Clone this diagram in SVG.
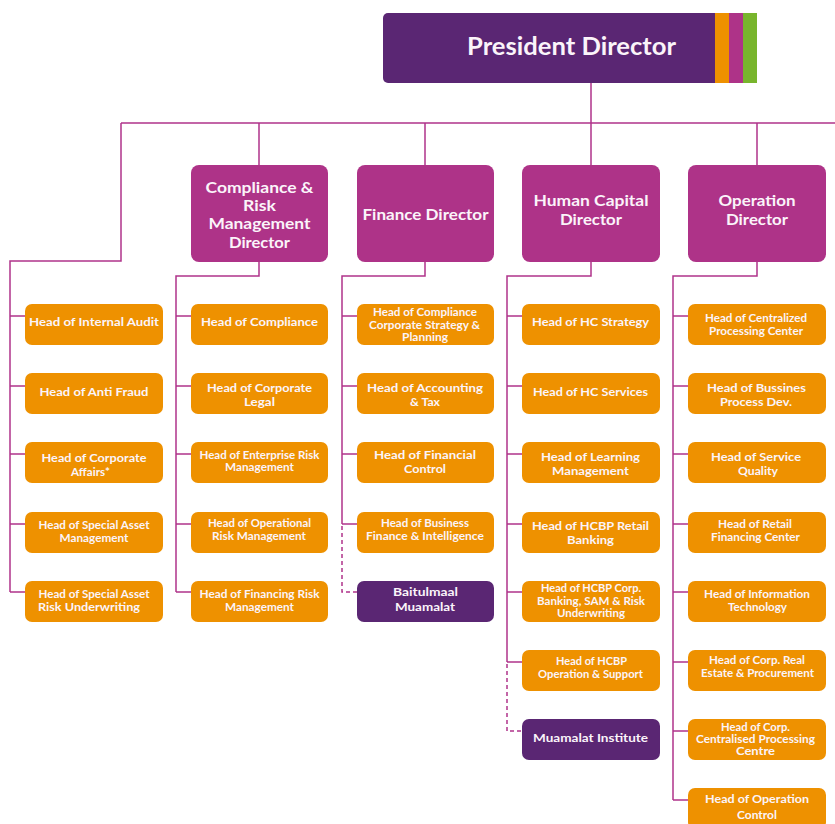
<svg xmlns="http://www.w3.org/2000/svg" width="835" height="824" viewBox="0 0 835 824">
  <style>
    .bg { fill: #ffffff; }
    .ln { fill: none; stroke: #b0338a; stroke-width: 1.5; }
    .dash { stroke-dasharray: 4 3; }
    .head { fill: #ee9100; }
    .dir { fill: #ae3388; }
    .unit { fill: #5a2673; }
    .t { font-family: Lato, "Liberation Sans", sans-serif; font-weight: 700; font-size: 11.5px; fill: #fbf4fa; text-anchor: middle; }
    .d { font-family: Lato, "Liberation Sans", sans-serif; font-weight: 700; font-size: 15.5px; fill: #fbf4fa; text-anchor: middle; }
    .p { font-family: Lato, "Liberation Sans", sans-serif; font-weight: 700; font-size: 25px; fill: #fbf4fa; text-anchor: middle; }
  </style>
  <rect class="bg" x="0" y="0" width="835" height="824"/>

  <!-- connectors -->
  <g id="connectors">
    <path class="ln" d="M591 83 V165 M121 123 H835 M259 123 V165 M425 123 V165 M757 123 V165"/>
    <!-- staff units under the president -->
    <path class="ln" d="M121 123 V261 H10 V592 M10 316 H25 M10 386 H25 M10 454 H25 M10 524 H25 M10 592 H25"/>
    <!-- compliance & risk -->
    <path class="ln" d="M259 262 V276 H176 V592 M176 316 H191 M176 386 H191 M176 454 H191 M176 524 H191 M176 592 H191"/>
    <!-- finance -->
    <path class="ln" d="M425 262 V276 H342 V524 M342 316 H357 M342 386 H357 M342 454 H357 M342 524 H357"/>
    <path class="ln dash" d="M342 526 V592 H357"/>
    <!-- human capital -->
    <path class="ln" d="M591 262 V276 H507 V662 M507 316 H522 M507 386 H522 M507 454 H522 M507 524 H522 M507 592 H522 M507 662 H522"/>
    <path class="ln dash" d="M507 664 V731 H522"/>
    <!-- operation -->
    <path class="ln" d="M757 262 V276 H673 V800 M673 316 H688 M673 386 H688 M673 454 H688 M673 524 H688 M673 592 H688 M673 662 H688 M673 731 H688 M673 800 H688"/>
  </g>

  <!-- president -->
  <g id="president">
    <rect class="unit" x="383" y="13" width="340" height="70" rx="5"/>
    <rect x="715" y="13" width="14" height="70" fill="#ee9100"/>
    <rect x="729" y="13" width="14" height="70" fill="#ae3388"/>
    <rect x="743" y="13" width="14" height="70" fill="#78b52d"/>
    <text class="p" x="571.5" y="55" textLength="209" lengthAdjust="spacingAndGlyphs">President Director</text>
  </g>

  <!-- directors -->
  <g id="dir-compliance">
    <rect class="dir" x="191" y="165" width="137" height="97" rx="8"/>
    <text class="d" x="259.5" y="193" textLength="108" lengthAdjust="spacingAndGlyphs">Compliance &amp;</text>
    <text class="d" x="259.5" y="211" textLength="33" lengthAdjust="spacingAndGlyphs">Risk</text>
    <text class="d" x="259.5" y="229" textLength="102" lengthAdjust="spacingAndGlyphs">Management</text>
    <text class="d" x="259.5" y="248" textLength="61" lengthAdjust="spacingAndGlyphs">Director</text>
  </g>
  <g id="dir-finance">
    <rect class="dir" x="357" y="165" width="137" height="97" rx="8"/>
    <text class="d" x="425.5" y="220" textLength="126" lengthAdjust="spacingAndGlyphs">Finance Director</text>
  </g>
  <g id="dir-hc">
    <rect class="dir" x="522" y="165" width="138" height="97" rx="8"/>
    <text class="d" x="591" y="206" textLength="115" lengthAdjust="spacingAndGlyphs">Human Capital</text>
    <text class="d" x="591" y="225" textLength="62" lengthAdjust="spacingAndGlyphs">Director</text>
  </g>
  <g id="dir-operation">
    <rect class="dir" x="688" y="165" width="138" height="97" rx="8"/>
    <text class="d" x="757" y="206" textLength="77" lengthAdjust="spacingAndGlyphs">Operation</text>
    <text class="d" x="757" y="225" textLength="62" lengthAdjust="spacingAndGlyphs">Director</text>
  </g>

  <!-- units under the president -->
  <g id="internal-audit">
    <rect class="head" x="25" y="304" width="138" height="41" rx="7"/>
    <text class="t" x="94" y="326" textLength="130" lengthAdjust="spacingAndGlyphs">Head of Internal Audit</text>
  </g>
  <g id="anti-fraud">
    <rect class="head" x="25" y="373" width="138" height="41" rx="7"/>
    <text class="t" x="94" y="396" textLength="109" lengthAdjust="spacingAndGlyphs">Head of Anti Fraud</text>
  </g>
  <g id="corporate-affairs">
    <rect class="head" x="25" y="442" width="138" height="41" rx="7"/>
    <text class="t" x="94" y="462" textLength="105" lengthAdjust="spacingAndGlyphs">Head of Corporate</text>
    <text class="t" x="90.5" y="476" textLength="39" lengthAdjust="spacingAndGlyphs">Affairs*</text>
  </g>
  <g id="special-asset-mgmt">
    <rect class="head" x="25" y="512" width="138" height="41" rx="7"/>
    <text class="t" x="94" y="529" textLength="111" lengthAdjust="spacingAndGlyphs">Head of Special Asset</text>
    <text class="t" x="94" y="542" textLength="69" lengthAdjust="spacingAndGlyphs">Management</text>
  </g>
  <g id="special-asset-risk">
    <rect class="head" x="25" y="581" width="138" height="41" rx="7"/>
    <text class="t" x="94" y="598" textLength="111" lengthAdjust="spacingAndGlyphs">Head of Special Asset</text>
    <text class="t" x="89" y="611" textLength="102" lengthAdjust="spacingAndGlyphs">Risk Underwriting</text>
  </g>

  <!-- compliance & risk units -->
  <g id="compliance">
    <rect class="head" x="191" y="304" width="137" height="41" rx="7"/>
    <text class="t" x="259.5" y="326" textLength="117" lengthAdjust="spacingAndGlyphs">Head of Compliance</text>
  </g>
  <g id="corporate-legal">
    <rect class="head" x="191" y="373" width="137" height="41" rx="7"/>
    <text class="t" x="259.5" y="392" textLength="105" lengthAdjust="spacingAndGlyphs">Head of Corporate</text>
    <text class="t" x="259.5" y="406" textLength="31" lengthAdjust="spacingAndGlyphs">Legal</text>
  </g>
  <g id="enterprise-risk">
    <rect class="head" x="191" y="442" width="137" height="41" rx="7"/>
    <text class="t" x="259.5" y="458.5" textLength="120" lengthAdjust="spacingAndGlyphs">Head of Enterprise Risk</text>
    <text class="t" x="259.5" y="471" textLength="69" lengthAdjust="spacingAndGlyphs">Management</text>
  </g>
  <g id="operational-risk">
    <rect class="head" x="191" y="512" width="137" height="41" rx="7"/>
    <text class="t" x="259.5" y="527" textLength="103" lengthAdjust="spacingAndGlyphs">Head of Operational</text>
    <text class="t" x="259" y="540" textLength="94" lengthAdjust="spacingAndGlyphs">Risk Management</text>
  </g>
  <g id="financing-risk">
    <rect class="head" x="191" y="581" width="137" height="41" rx="7"/>
    <text class="t" x="259.5" y="598" textLength="120" lengthAdjust="spacingAndGlyphs">Head of Financing Risk</text>
    <text class="t" x="259.5" y="611" textLength="69" lengthAdjust="spacingAndGlyphs">Management</text>
  </g>

  <!-- finance units -->
  <g id="corp-strategy">
    <rect class="head" x="357" y="304" width="137" height="41" rx="7"/>
    <text class="t" x="425" y="316" textLength="104" lengthAdjust="spacingAndGlyphs">Head of Compliance</text>
    <text class="t" x="424.5" y="328.5" textLength="111" lengthAdjust="spacingAndGlyphs">Corporate Strategy &amp;</text>
    <text class="t" x="425" y="341" textLength="46" lengthAdjust="spacingAndGlyphs">Planning</text>
  </g>
  <g id="accounting-tax">
    <rect class="head" x="357" y="373" width="137" height="41" rx="7"/>
    <text class="t" x="425" y="392" textLength="116" lengthAdjust="spacingAndGlyphs">Head of Accounting</text>
    <text class="t" x="425" y="406" textLength="30" lengthAdjust="spacingAndGlyphs">&amp; Tax</text>
  </g>
  <g id="financial-control">
    <rect class="head" x="357" y="442" width="137" height="41" rx="7"/>
    <text class="t" x="425" y="459" textLength="102" lengthAdjust="spacingAndGlyphs">Head of Financial</text>
    <text class="t" x="425" y="473" textLength="42" lengthAdjust="spacingAndGlyphs">Control</text>
  </g>
  <g id="business-finance">
    <rect class="head" x="357" y="512" width="137" height="41" rx="7"/>
    <text class="t" x="425" y="527" textLength="88" lengthAdjust="spacingAndGlyphs">Head of Business</text>
    <text class="t" x="425" y="540" textLength="118" lengthAdjust="spacingAndGlyphs">Finance &amp; Intelligence</text>
  </g>
  <g id="baitulmaal">
    <rect class="unit" x="357" y="581" width="137" height="41" rx="7"/>
    <text class="t" x="425.5" y="596" textLength="65" lengthAdjust="spacingAndGlyphs">Baitulmaal</text>
    <text class="t" x="425" y="611" textLength="60" lengthAdjust="spacingAndGlyphs">Muamalat</text>
  </g>

  <!-- human capital units -->
  <g id="hc-strategy">
    <rect class="head" x="522" y="304" width="138" height="41" rx="7"/>
    <text class="t" x="590.5" y="326" textLength="117" lengthAdjust="spacingAndGlyphs">Head of HC Strategy</text>
  </g>
  <g id="hc-services">
    <rect class="head" x="522" y="373" width="138" height="41" rx="7"/>
    <text class="t" x="590.5" y="396" textLength="115" lengthAdjust="spacingAndGlyphs">Head of HC Services</text>
  </g>
  <g id="learning-mgmt">
    <rect class="head" x="522" y="442" width="138" height="41" rx="7"/>
    <text class="t" x="590.5" y="461" textLength="99" lengthAdjust="spacingAndGlyphs">Head of Learning</text>
    <text class="t" x="590.5" y="475" textLength="77" lengthAdjust="spacingAndGlyphs">Management</text>
  </g>
  <g id="hcbp-retail">
    <rect class="head" x="522" y="512" width="138" height="41" rx="7"/>
    <text class="t" x="590.5" y="530" textLength="117" lengthAdjust="spacingAndGlyphs">Head of HCBP Retail</text>
    <text class="t" x="590.5" y="544" textLength="47" lengthAdjust="spacingAndGlyphs">Banking</text>
  </g>
  <g id="hcbp-corp">
    <rect class="head" x="522" y="581" width="138" height="41" rx="7"/>
    <text class="t" x="591" y="592" textLength="100" lengthAdjust="spacingAndGlyphs">Head of HCBP Corp.</text>
    <text class="t" x="591" y="604.5" textLength="108" lengthAdjust="spacingAndGlyphs">Banking, SAM &amp; Risk</text>
    <text class="t" x="591" y="617" textLength="68" lengthAdjust="spacingAndGlyphs">Underwriting</text>
  </g>
  <g id="hcbp-operation">
    <rect class="head" x="522" y="650" width="138" height="41" rx="7"/>
    <text class="t" x="591.5" y="665" textLength="71" lengthAdjust="spacingAndGlyphs">Head of HCBP</text>
    <text class="t" x="590.5" y="678" textLength="105" lengthAdjust="spacingAndGlyphs">Operation &amp; Support</text>
  </g>
  <g id="muamalat-institute">
    <rect class="unit" x="522" y="719" width="138" height="41" rx="7"/>
    <text class="t" x="590.5" y="742" textLength="115" lengthAdjust="spacingAndGlyphs">Muamalat Institute</text>
  </g>

  <!-- operation units -->
  <g id="centralized-processing">
    <rect class="head" x="688" y="304" width="138" height="41" rx="7"/>
    <text class="t" x="756" y="322" textLength="102" lengthAdjust="spacingAndGlyphs">Head of Centralized</text>
    <text class="t" x="756" y="335" textLength="94" lengthAdjust="spacingAndGlyphs">Processing Center</text>
  </g>
  <g id="business-process">
    <rect class="head" x="688" y="373" width="138" height="41" rx="7"/>
    <text class="t" x="756.5" y="392" textLength="99" lengthAdjust="spacingAndGlyphs">Head of Bussines</text>
    <text class="t" x="756" y="406" textLength="72" lengthAdjust="spacingAndGlyphs">Process Dev.</text>
  </g>
  <g id="service-quality">
    <rect class="head" x="688" y="442" width="138" height="41" rx="7"/>
    <text class="t" x="756" y="461" textLength="90" lengthAdjust="spacingAndGlyphs">Head of Service</text>
    <text class="t" x="758" y="475" textLength="40" lengthAdjust="spacingAndGlyphs">Quality</text>
  </g>
  <g id="retail-financing">
    <rect class="head" x="688" y="512" width="138" height="41" rx="7"/>
    <text class="t" x="755" y="528" textLength="74" lengthAdjust="spacingAndGlyphs">Head of Retail</text>
    <text class="t" x="755.5" y="541" textLength="89" lengthAdjust="spacingAndGlyphs">Financing Center</text>
  </g>
  <g id="information-technology">
    <rect class="head" x="688" y="581" width="138" height="41" rx="7"/>
    <text class="t" x="757" y="598" textLength="106" lengthAdjust="spacingAndGlyphs">Head of Information</text>
    <text class="t" x="757.5" y="611" textLength="59" lengthAdjust="spacingAndGlyphs">Technology</text>
  </g>
  <g id="real-estate">
    <rect class="head" x="688" y="650" width="138" height="41" rx="7"/>
    <text class="t" x="757" y="664" textLength="96" lengthAdjust="spacingAndGlyphs">Head of Corp. Real</text>
    <text class="t" x="757.5" y="677" textLength="113" lengthAdjust="spacingAndGlyphs">Estate &amp; Procurement</text>
  </g>
  <g id="corp-centralised">
    <rect class="head" x="688" y="719" width="138" height="41" rx="7"/>
    <text class="t" x="755.5" y="731" textLength="69" lengthAdjust="spacingAndGlyphs">Head of Corp.</text>
    <text class="t" x="755.5" y="743" textLength="119" lengthAdjust="spacingAndGlyphs">Centralised Processing</text>
    <text class="t" x="755.5" y="755" textLength="39" lengthAdjust="spacingAndGlyphs">Centre</text>
  </g>
  <g id="operation-control">
    <rect class="head" x="688" y="788" width="138" height="41" rx="7"/>
    <text class="t" x="757" y="803" textLength="104" lengthAdjust="spacingAndGlyphs">Head of Operation</text>
    <text class="t" x="757" y="819" textLength="40" lengthAdjust="spacingAndGlyphs">Control</text>
  </g>
</svg>
